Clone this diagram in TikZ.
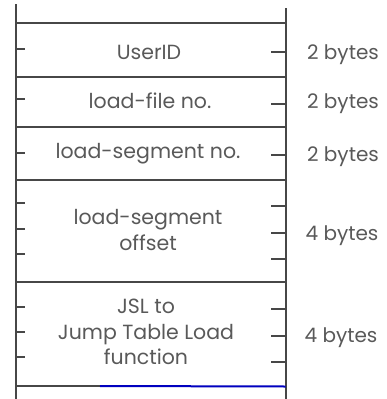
\documentclass[tikz,border=0pt]{standalone}
\usepackage{fontspec}
\setmainfont{Poppins}
\begin{document}
\begin{tikzpicture}[x=1pt,y=-1pt,
  rule/.style={draw=black!72,line width=2pt},
  tick/.style={draw=black!72,line width=2pt},
  lbl/.style={text=black!65,font=\fontsize{20.5}{25.5}\selectfont,align=center,inner sep=0pt},
  sz/.style={text=black!65,font=\fontsize{20}{24}\selectfont,inner sep=0pt}]
\useasboundingbox (0,0) rectangle (386,399);
% verticals
\draw[rule] (15.5,4) -- (15.5,399);
\draw[rule] (285.5,8) -- (285.5,399);
% horizontals
\foreach \y in {23,77,127,180,282} \draw[rule] (15.5,\y) -- (285.5,\y);
\draw[rule] (15.5,386) -- (100,386);
\draw[draw=blue!75!black,line width=2pt] (100,386) -- (285.5,386.5);
% left ticks
\foreach \y in {49,99,153,203,229,254,307,332,357} \draw[tick] (15.5,\y) -- (25,\y);
% right ticks
\foreach \y in {52,104,155,206,233,259,309,336,362} \draw[tick] (271,\y) -- (285.5,\y);
% labels
\node[lbl] (uid) at (149,52) {UserID};
\node[lbl] (lfn) at (150,101) {load-file no.};
\node[lbl] (lsn) at (148,154) {load-segment no.};
\node[lbl] (lso) at (148,230) {load-segment\\offset};
\node[lbl] (jsl) at (146,332) {JSL to\\Jump Table Load\\function};
\node[sz] (b1) at (343,55) {2 bytes};
\node[sz] (b2) at (343,104) {2 bytes};
\node[sz] (b3) at (343,157) {2 bytes};
\node[sz] (b4) at (342,236) {4 bytes};
\node[sz] (b5) at (341,338) {4 bytes};
\end{tikzpicture}
\end{document}
